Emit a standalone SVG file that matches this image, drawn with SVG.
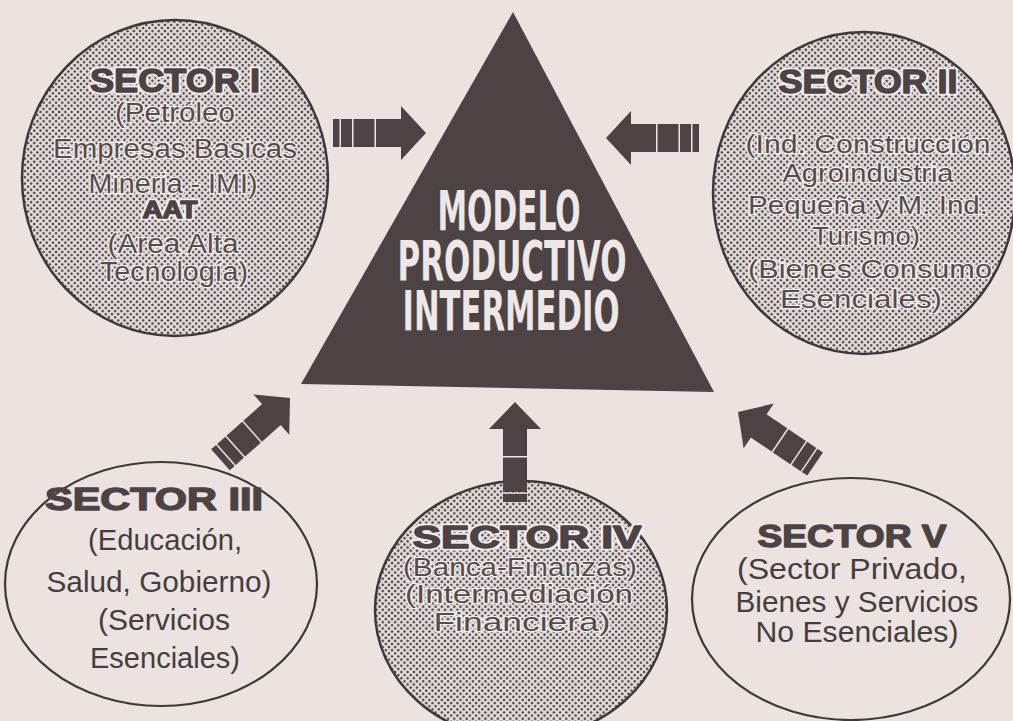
<svg xmlns="http://www.w3.org/2000/svg" width="1013" height="721" viewBox="0 0 1013 721">
<defs>
<pattern id="dots" patternUnits="userSpaceOnUse" width="4.4" height="4.4" patternTransform="rotate(45)">
<rect width="4.4" height="4.4" fill="#e4dcda"/>
<circle cx="2.2" cy="2.2" r="1.3" fill="#4d4345"/>
</pattern>
<g id="arrow">
<polygon points="0,0 -25,-27 -25,27"/>
<rect x="-50" y="-14" width="26" height="28"/>
<rect x="-72.5" y="-14" width="21" height="28"/>
<rect x="-85" y="-14" width="11" height="28"/>
<rect x="-93" y="-14" width="6.5" height="28"/>
</g>
</defs>
<style>
.bg{fill:#ece3e0}
.dark{fill:#4d4345}
.shaded{fill:url(#dots);stroke:#3f3739;stroke-width:2.5}
.plain{fill:none;stroke:#3f3739;stroke-width:2.2}
.st{font-family:"Liberation Sans",Arial,sans-serif;text-anchor:middle}
.halo{fill:#564c4e;stroke:#f3eeec;stroke-width:2.6;paint-order:stroke fill;stroke-linejoin:round}
.head{font-family:"Liberation Sans",Arial,sans-serif;font-weight:bold;text-anchor:middle}
.hh{fill:#f3eeec;stroke:#f3eeec;stroke-width:5;stroke-linejoin:round}
.hd{fill:#4d4345;stroke:#4d4345;stroke-width:1.4;stroke-linejoin:round}
.norm{fill:#453d3f}
.tri{font-family:"Liberation Sans Narrow","DejaVu Sans Condensed","Roboto Condensed",sans-serif;font-weight:bold;font-size:56px;fill:#eee7e5;text-anchor:middle}
</style>
<rect class="bg" x="0" y="0" width="1013" height="721"/>

<g id="modelo">
<polygon class="dark" points="513,12 301,384 714,392"/>
<text class="tri" x="509" y="230" textLength="143" lengthAdjust="spacingAndGlyphs">MODELO</text>
<text class="tri" x="512" y="280" textLength="229" lengthAdjust="spacingAndGlyphs">PRODUCTIVO</text>
<text class="tri" x="511" y="330" textLength="217" lengthAdjust="spacingAndGlyphs">INTERMEDIO</text>
</g>

<g id="sector1">
<ellipse class="shaded" cx="175" cy="178" rx="153" ry="158"/>
<text class="head hh" x="175" y="92" font-size="33" textLength="170" lengthAdjust="spacingAndGlyphs">SECTOR I</text>
<text class="head hd" x="175" y="92" font-size="33" textLength="170" lengthAdjust="spacingAndGlyphs">SECTOR I</text>
<text class="st halo" font-size="27" x="175" y="122" textLength="120" lengthAdjust="spacingAndGlyphs">(Petróleo</text>
<text class="st halo" font-size="27" x="175" y="158" textLength="244" lengthAdjust="spacingAndGlyphs">Empresas Basicas</text>
<text class="st halo" font-size="27" x="173" y="193" textLength="169" lengthAdjust="spacingAndGlyphs">Mineria - IMI)</text>
<text class="head hh" x="170" y="218" font-size="23" textLength="55" lengthAdjust="spacingAndGlyphs">AAT</text>
<text class="head hd" x="170" y="218" font-size="23" textLength="55" lengthAdjust="spacingAndGlyphs">AAT</text>
<text class="st halo" font-size="27" x="173" y="253" textLength="131" lengthAdjust="spacingAndGlyphs">(Area Alta</text>
<text class="st halo" font-size="27" x="174" y="281" textLength="148" lengthAdjust="spacingAndGlyphs">Tecnología)</text>
</g>

<g id="sector2">
<ellipse class="shaded" cx="864" cy="193" rx="151" ry="161"/>
<text class="head hh" x="868" y="93" font-size="33" textLength="179" lengthAdjust="spacingAndGlyphs">SECTOR II</text>
<text class="head hd" x="868" y="93" font-size="33" textLength="179" lengthAdjust="spacingAndGlyphs">SECTOR II</text>
<text class="st halo" font-size="25" x="868" y="153" textLength="245" lengthAdjust="spacingAndGlyphs">(Ind. Construcción</text>
<text class="st halo" font-size="25" x="868" y="182" textLength="171" lengthAdjust="spacingAndGlyphs">Agroindustria</text>
<text class="st halo" font-size="25" x="868" y="214" textLength="240" lengthAdjust="spacingAndGlyphs">Pequeña y M. Ind.</text>
<text class="st halo" font-size="25" x="866" y="245" textLength="108" lengthAdjust="spacingAndGlyphs">Turismo)</text>
<text class="st halo" font-size="25" x="870" y="278" textLength="244" lengthAdjust="spacingAndGlyphs">(Bienes Consumo</text>
<text class="st halo" font-size="25" x="861" y="308" textLength="162" lengthAdjust="spacingAndGlyphs">Esenciales)</text>
</g>

<g id="sector3">
<ellipse class="plain" cx="161" cy="584" rx="156" ry="122"/>
<text class="head hd" x="154" y="510" font-size="31" textLength="218" lengthAdjust="spacingAndGlyphs">SECTOR III</text>
<text class="st norm" font-size="30" x="165" y="550" textLength="154" lengthAdjust="spacingAndGlyphs">(Educación,</text>
<text class="st norm" font-size="30" x="159" y="592" textLength="225" lengthAdjust="spacingAndGlyphs">Salud, Gobierno)</text>
<text class="st norm" font-size="30" x="164" y="630" textLength="132" lengthAdjust="spacingAndGlyphs">(Servicios</text>
<text class="st norm" font-size="30" x="165" y="668" textLength="150" lengthAdjust="spacingAndGlyphs">Esenciales)</text>
</g>

<g id="sector4">
<ellipse class="shaded" cx="521" cy="610" rx="146" ry="129"/>
<text class="head hh" x="527" y="548" font-size="31" textLength="229" lengthAdjust="spacingAndGlyphs">SECTOR IV</text>
<text class="head hd" x="527" y="548" font-size="31" textLength="229" lengthAdjust="spacingAndGlyphs">SECTOR IV</text>
<text class="st halo" font-size="26" x="520" y="576" textLength="234" lengthAdjust="spacingAndGlyphs">(Banca-Finanzas)</text>
<text class="st halo" font-size="26" x="519" y="603" textLength="228" lengthAdjust="spacingAndGlyphs">(Intermediación</text>
<text class="st halo" font-size="26" x="522" y="631" textLength="177" lengthAdjust="spacingAndGlyphs">Financiera)</text>
</g>

<g id="sector5">
<ellipse class="plain" cx="851" cy="599" rx="159" ry="121"/>
<text class="head hd" x="852" y="547" font-size="31" textLength="189" lengthAdjust="spacingAndGlyphs">SECTOR V</text>
<text class="st norm" font-size="30" x="852" y="579" textLength="230" lengthAdjust="spacingAndGlyphs">(Sector Privado,</text>
<text class="st norm" font-size="30" x="857" y="612" textLength="243" lengthAdjust="spacingAndGlyphs">Bienes y Servicios</text>
<text class="st norm" font-size="30" x="857" y="642" textLength="203" lengthAdjust="spacingAndGlyphs">No Esenciales)</text>
</g>

<g id="connectors" class="dark">
<use href="#arrow" transform="translate(426,133)"/>
<use href="#arrow" transform="translate(606,138) rotate(180)"/>
<use href="#arrow" transform="translate(290,398) rotate(-41.6)"/>
<use href="#arrow" transform="translate(738,412) rotate(-146)"/>
<g transform="translate(515,402) rotate(-90)">
<polygon points="0,0 -27,-26 -27,26"/>
<rect x="-54" y="-12" width="28" height="24"/>
<rect x="-90" y="-12" width="34.5" height="24"/>
<rect x="-100" y="-12" width="8" height="24"/>
</g>
</g>
</svg>
